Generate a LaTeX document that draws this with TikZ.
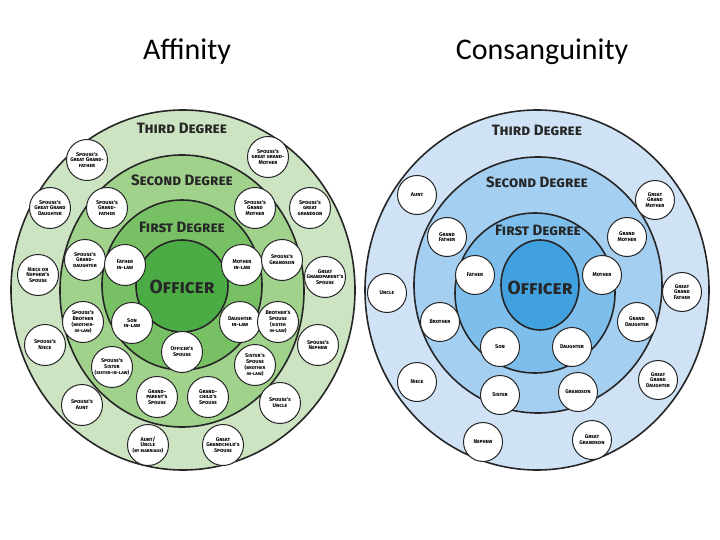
\documentclass[tikz,border=0pt]{standalone}
\usepackage{fontspec}
\setmainfont{Carlito}
\newfontfamily\scf[Letters=SmallCaps]{Fira Sans}
\definecolor{gA}{RGB}{205,228,195}
\definecolor{gB}{RGB}{160,210,140}
\definecolor{gC}{RGB}{120,192,100}
\definecolor{gD}{RGB}{75,172,70}
\definecolor{bA}{RGB}{208,227,246}
\definecolor{bB}{RGB}{165,207,240}
\definecolor{bC}{RGB}{125,190,236}
\definecolor{bD}{RGB}{65,160,222}
\tikzset{
 ring/.style={draw=black!85,line width=1.6pt},
 rel/.style={circle,draw=black!85,line width=1pt,fill=white,minimum size=41pt,inner sep=0pt,align=center,font=\scf\bfseries\fontsize{5.4}{5.8}\selectfont},
 relb/.style={rel,minimum size=39pt},
 deg/.style={font=\scf\bfseries\fontsize{15}{15}\selectfont,text=black!85},
 off/.style={font=\scf\bfseries\fontsize{19}{19}\selectfont,text=black!85},
 ttl/.style={font=\fontsize{30}{30}\selectfont}
}
\begin{document}
\begin{tikzpicture}[x=1pt,y=-1pt]
\useasboundingbox (0,0) rectangle (720,540);
\node[ttl] (t1) at (187,52) {Affinity};
\node[ttl] (t2) at (542,52) {Consanguinity};
% left
\draw[ring,fill=gA] (183,290) ellipse [x radius=172,y radius=180];
\draw[ring,fill=gB] (182,291) ellipse [x radius=122,y radius=136];
\draw[ring,fill=gC] (182,285) ellipse [x radius=80,y radius=85];
\draw[ring,fill=gD] (182,286) ellipse [x radius=46,y radius=46];
\node[deg] (l3) at (182,128) {Third Degree};
\node[deg] (l2) at (182,180) {Second Degree};
\node[deg] (l1) at (182,227) {First Degree};
\node[off] (lo) at (182,287) {Officer};
\foreach \n/\p/\t in {
 a1/{87,160}/{Spouse's\\Great Grand-\\father},
 a2/{268,157}/{Spouse's\\great grand-\\Mother},
 a3/{50,208}/{Spouse's\\Great Grand\\Daughter},
 a4/{107,208}/{Spouse's\\Grand-\\father},
 a5/{255,208}/{Spouse's\\Grand\\Mother},
 a6/{310,208}/{Spouse's\\great\\grandson},
 a7/{85,260}/{Spouse's\\Grand-\\daughter},
 a8/{125,265}/{Father\\in-law},
 a9/{242,265}/{Mother\\in-law},
 a10/{282,260}/{Spouse's\\Grandson},
 a11/{38,275}/{Niece or\\Nephew's\\Spouse},
 a12/{325,277}/{Great\\Grandparent's\\Spouse},
 a13/{83,322}/{Spouse's\\Brother\\{\tiny(brother-}\\{\tiny in-law)}},
 a14/{132,323}/{Son\\in-law},
 a15/{240,322}/{Daughter\\in-law},
 a16/{278,322}/{Brother's\\Spouse\\{\tiny(sister}\\{\tiny in-law)}},
 a17/{45,345}/{Spouse's\\Niece},
 a18/{318,345}/{Spouse's\\Nephew},
 a19/{182,352}/{Officer's\\Spouse},
 a20/{112,367}/{Spouse's\\Sister\\{\tiny(sister-in-law)}},
 a21/{255,365}/{Sister's\\Spouse\\{\tiny(brother}\\{\tiny in-law)}},
 a22/{157,397}/{Grand-\\parent's\\Spouse},
 a23/{208,397}/{Grand-\\child's\\Spouse},
 a24/{82,405}/{Spouse's\\Aunt},
 a25/{280,403}/{Spouse's\\Uncle},
 a26/{148,445}/{Aunt/\\Uncle\\{\tiny(by marriage)}},
 a27/{223,445}/{Great\\Grandchild's\\Spouse}}
 \node[rel] (\n) at (\p) {\t};
% right
\draw[ring,fill=bA] (537,290) ellipse [x radius=172,y radius=180];
\draw[ring,fill=bB] (538,285) ellipse [x radius=124,y radius=128];
\draw[ring,fill=bC] (535,293) ellipse [x radius=80,y radius=80];
\draw[ring,fill=bD] (540,285) ellipse [x radius=39,y radius=45];
\node[deg] (r3) at (537,130) {Third Degree};
\node[deg] (r2) at (537,182) {Second Degree};
\node[deg] (r1) at (538,230) {First Degree};
\node[off] (ro) at (540,288) {Officer};
\foreach \n/\p/\t in {
 b1/{417,195}/{Aunt},
 b2/{655,200}/{Great\\Grand\\Mother},
 b3/{447,237}/{Grand\\Father},
 b4/{627,237}/{Grand\\Mother},
 b5/{475,275}/{Father},
 b6/{602,275}/{Mother},
 b7/{387,293}/{Uncle},
 b8/{682,292}/{Great\\Grand\\Father},
 b9/{440,322}/{Brother},
 b10/{637,322}/{Grand\\Daughter},
 b11/{500,347}/{Son},
 b12/{572,347}/{Daughter},
 b13/{417,382}/{Niece},
 b14/{658,380}/{Great\\Grand\\Daughter},
 b15/{500,395}/{Sister},
 b16/{578,392}/{Grandson},
 b17/{483,442}/{Nephew},
 b18/{592,440}/{Great\\Grandson}}
 \node[relb] (\n) at (\p) {\t};
\end{tikzpicture}
\end{document}
